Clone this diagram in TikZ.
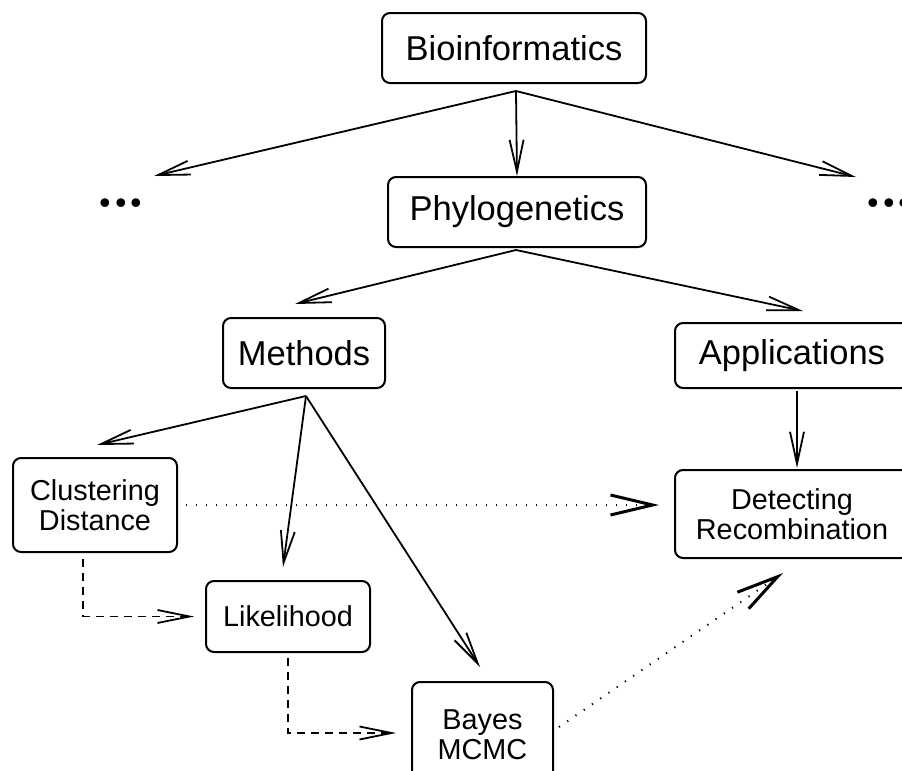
\documentclass[tikz,border=0pt]{standalone}
\usepackage{fontspec}
\setmainfont{Liberation Sans}
\usetikzlibrary{arrows.meta, calc}

\begin{document}
\begin{tikzpicture}[
    x=0.5pt, y=-0.5pt,
    bigbox/.style={draw, line width=1pt, rounded corners=4pt, inner sep=0pt,
        font=\fontsize{17.25}{18}\selectfont},
    smallbox/.style={draw, line width=1pt, rounded corners=4pt, inner sep=0pt,
        align=center, font=\fontsize{14.4}{15}\selectfont},
    dotsnode/.style={inner sep=0pt, font=\fontfamily{lmr}\fontsize{28}{28}\selectfont\bfseries},
    tree/.style={line width=0.9pt, -{Straight Barb[length=16pt, width=7pt]}},
    order/.style={line width=0.9pt, dash pattern=on 4pt off 3pt,
        -{Straight Barb[length=16pt, width=6.5pt]}},
    usage/.style={line width=1pt, dash pattern=on 0.6pt off 4.4pt,
        -{Straight Barb[length=21pt, width=10pt, line width=1.5pt]}}
]
    % Fixing the page to the reference size
    \useasboundingbox (0,0) rectangle (902,771);
    \clip (0,0) rectangle (902,771);

    % Top levels
    \node[bigbox, minimum width=132pt, minimum height=35pt] (bio) at (514,48) {Bioinformatics};
    \node[bigbox, minimum width=129pt, minimum height=35pt] (phylo) at (517,212) {Phylogenetics};
    \node[dotsnode] (ldots) at (121,203) {...};
    \node[dotsnode] (rdots) at (889,203) {...};

    % Second level
    \node[bigbox, minimum width=81pt, minimum height=35pt] (methods) at (304,353) {Methods};
    \node[bigbox, minimum width=117pt, minimum height=32.5pt] (apps) at (792,355.5) {Applications};

    % Methods and application
    \node[smallbox, minimum width=82pt, minimum height=47pt] (clust) at (95,505) {Clustering\\Distance};
    \node[smallbox, minimum width=82pt, minimum height=35.5pt] (lik) at (288,616.5) {Likelihood};
    \node[smallbox, minimum width=70.5pt, minimum height=52.5pt] (bayes) at (482.5,734.5) {Bayes\\MCMC};
    \node[smallbox, minimum width=117pt, minimum height=44pt] (detect) at (792,514) {Detecting\\Recombination};

    % Points where the fans start
    \coordinate (bioout) at ($(bio.south)+(2,7)$);
    \coordinate (phyloout) at ($(phylo.south)+(-1,2)$);
    \coordinate (methout) at ($(methods.south)+(2,7)$);

    % Solid arrows
    \draw[tree] (bioout) -- ($(ldots)+(33,-27)$);
    \draw[tree] (bioout) -- (phylo.north);
    \draw[tree] (bioout) -- ($(rdots)+(-33,-26)$);
    \draw[tree] (phyloout) -- ($(methods.north)+(-9,-13)$);
    \draw[tree] (phyloout) -- ($(apps.north)+(11,-11)$);
    \draw[tree] (methout) -- ($(clust.north)+(2,-12)$);
    \draw[tree] (methout) -- ($(lik.north)+(-5,-13)$);
    \draw[tree] (methout) -- ($(bayes.north)+(-2.5,-14)$);
    \draw[tree] ($(apps.south)+(5,2)$) -- ($(detect.north)+(5,-1)$);

    % Dashed arrows
    \coordinate (c1) at ($(clust.south)+(-12,6)$);
    \coordinate (l1) at ($(lik.west)+(-11,0)$);
    \draw[order] (c1) |- (l1);
    \coordinate (l2) at ($(lik.south)+(0,5)$);
    \coordinate (b1) at ($(bayes.west)+(-15,-1.5)$);
    \draw[order] (l2) |- (b1);

    % Dotted arrows
    \draw[usage] ($(clust.east)+(8,0)$) -- ($(detect.west)+(-15,-9)$);
    \draw[usage] ($(bayes.east)+(5,-7.5)$) -- ($(detect.south)+(-9,14)$);
\end{tikzpicture}
\end{document}
